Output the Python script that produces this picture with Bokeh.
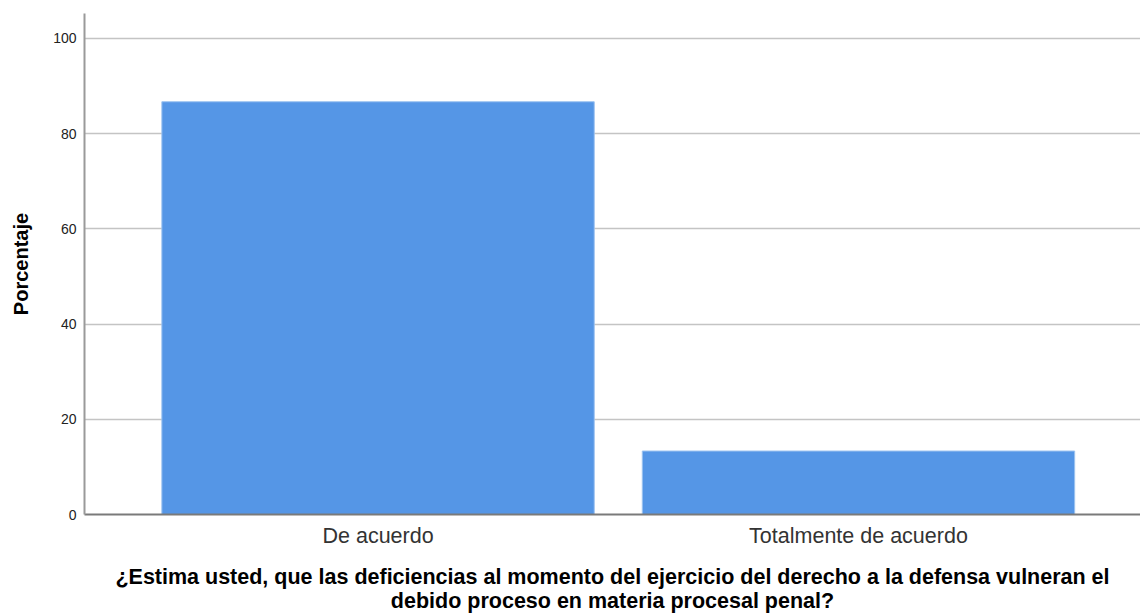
from bokeh.plotting import figure
from bokeh.models import Range1d, FixedTicker, ColumnDataSource
from bokeh.embed import file_html
from bokeh.resources import INLINE

categories = ["De acuerdo", "Totalmente de acuerdo"]
percentages = [86.67, 13.33]
y_ticks = [0, 20, 40, 60, 80, 100]
x_title_lines = [
    "¿Estima usted, que las deficiencias al momento del ejercicio del derecho a la defensa vulneran el",
    "debido proceso en materia procesal penal?",
]

positions = list(range(len(categories)))
source = ColumnDataSource(dict(x=positions, top=percentages))

FONT = "Liberation Sans"

p = figure(width=1140, height=615, output_backend="svg", toolbar_location=None,
           x_range=Range1d(-0.611, 1.587), y_range=Range1d(0, 105.2),
           min_border_left=84, min_border_right=0, min_border_top=13, min_border_bottom=99)
p.outline_line_color = None
p.background_fill_color = "white"

p.vbar(x="x", top="top", width=0.9, source=source,
       fill_color="#5596e6", line_color="#9cc3f0", line_width=1)

# x axis
xa = p.xaxis[0]
xa.ticker = FixedTicker(ticks=positions)
xa.major_label_overrides = {i: c for i, c in enumerate(categories)}
xa.major_tick_out = 0
xa.major_tick_in = 0
xa.minor_tick_out = 0
xa.minor_tick_in = 0
xa.major_label_text_font = FONT
xa.major_label_text_font_size = "21.5px"
xa.major_label_text_color = "#333333"
xa.major_label_standoff = 9
xa.axis_line_color = "#7a7a7a"
xa.axis_line_width = 2
xa.axis_label = "\n".join(x_title_lines)
xa.axis_label_text_font = FONT
xa.axis_label_text_font_size = "21.5px"
xa.axis_label_text_font_style = "bold"
xa.axis_label_text_color = "#000000"
xa.axis_label_text_line_height = 1.0
xa.axis_label_standoff = 14

# y axis
ya = p.yaxis[0]
ya.ticker = FixedTicker(ticks=y_ticks)
ya.major_tick_out = 0
ya.major_tick_in = 0
ya.minor_tick_out = 0
ya.minor_tick_in = 0
ya.major_label_text_font = FONT
ya.major_label_text_font_size = "14px"
ya.major_label_text_color = "#222222"
ya.major_label_standoff = 8
ya.axis_line_color = "#9a9a9a"
ya.axis_line_width = 2
ya.axis_label = "Porcentaje"
ya.axis_label_text_font = FONT
ya.axis_label_text_font_size = "20px"
ya.axis_label_text_font_style = "bold"
ya.axis_label_text_color = "#000000"
ya.axis_label_standoff = 18

p.xgrid.grid_line_color = None
p.ygrid.ticker = FixedTicker(ticks=y_ticks[1:])
p.ygrid.grid_line_color = "#c4c4c4"
p.ygrid.grid_line_width = 1.5

open("out.html", "w").write(file_html(p, INLINE))
